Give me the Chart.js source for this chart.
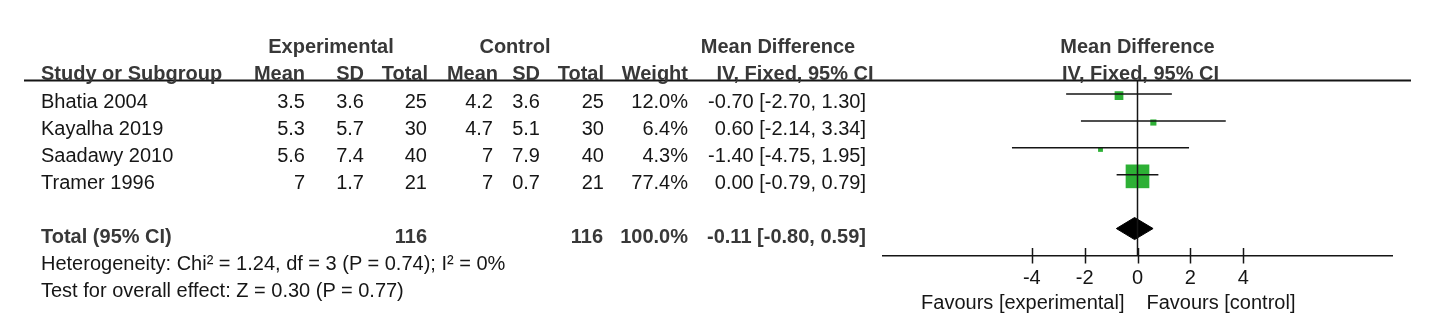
<!DOCTYPE html>
<html>
<head>
<meta charset="utf-8">
<script src="https://cdn.jsdelivr.net/npm/chart.js@4.4.1/dist/chart.umd.min.js"></script>
<style>
  html, body { margin: 0; padding: 0; background: #fff; }
  #wrap { position: relative; width: 1434px; height: 328px; overflow: hidden;
          font-family: "Liberation Sans", Arial, sans-serif; font-size: 20px; line-height: 20px; color: #161616; }
  #forest { position: absolute; left: 0; top: 0; }
  .t { position: absolute; white-space: nowrap; }
  .b { font-weight: bold; color: #383838; }
</style>
</head>
<body>
<div id="wrap"><canvas id="forest" width="1434" height="328"></canvas></div>
<script>
// study rows
const studies = ['Bhatia 2004', 'Kayalha 2019', 'Saadawy 2010', 'Tramer 1996'];
const expMean = [3.5, 5.3, 5.6, 7];
const expSD = [3.6, 5.7, 7.4, 1.7];
const expN = [25, 30, 40, 21];
const ctlMean = [4.2, 4.7, 7, 7];
const ctlSD = [3.6, 5.1, 7.9, 0.7];
const ctlN = [25, 30, 40, 21];
const weight = [12.0, 6.4, 4.3, 77.4];
const md = [-0.70, 0.60, -1.40, 0.00];
const mdLo = [-2.70, -2.14, -4.75, -0.79];
const mdHi = [1.30, 3.34, 1.95, 0.79];

// pooled estimate
const totalExpN = 116;
const totalCtlN = 116;
const totalWeight = 100.0;
const totalMd = -0.11;
const totalLo = -0.80;
const totalHi = 0.59;
const heterogeneity = 'Heterogeneity: Chi² = 1.24, df = 3 (P = 0.74); I² = 0%';
const overallTest = 'Test for overall effect: Z = 0.30 (P = 0.77)';

const xTicks = [-4, -2, 0, 2, 4];
const favoursLeft = 'Favours [experimental]';
const favoursRight = 'Favours [control]';

// layout
const X_MIN = -9.63, X_MAX = 9.63;
const Y_MIN = -0.52, Y_MAX = 6.02;
const TOTAL_ROW = 5;
const DIAMOND_H = 0.41;
const SQUARE_DROP = 0.06;   // squares sit a touch below their CI line
const INK = '#151515';
const GREEN = '#2db035';

const ciText = (m, lo, hi) => `${m.toFixed(2)} [${lo.toFixed(2)}, ${hi.toFixed(2)}]`;
const sideFor = (w) => 2.8 * Math.sqrt(w) - 0.95;

const ciSets = studies.map((s, i) => ({
  data: [{ x: mdLo[i], y: i }, { x: mdHi[i], y: i }],
  showLine: true, borderColor: INK, borderWidth: 1.5, pointRadius: 0
}));

const forestDecor = {
  id: 'forestDecor',
  afterDraw(chart) {
    const { ctx, chartArea, scales: { x } } = chart;
    ctx.save();
    ctx.strokeStyle = INK;
    // header rule across the table and plot
    ctx.lineWidth = 2;
    ctx.beginPath();
    ctx.moveTo(24, chartArea.top + 0.5);
    ctx.lineTo(1411, chartArea.top + 0.5);
    ctx.stroke();
    // tick marks crossing the axis
    ctx.lineWidth = 1.5;
    for (const v of xTicks) {
      const px = Math.round(x.getPixelForValue(v)) + 0.5;
      ctx.beginPath();
      ctx.moveTo(px, chartArea.bottom - 8);
      ctx.lineTo(px, chartArea.bottom + 7.5);
      ctx.stroke();
    }
    ctx.restore();
  }
};

const chart = new Chart(document.getElementById('forest'), {
  type: 'scatter',
  data: {
    datasets: [
      ...ciSets,
      {
        data: [{ x: 0, y: Y_MIN }, { x: 0, y: Y_MAX }],
        showLine: true, borderColor: INK, borderWidth: 1.5, pointRadius: 0
      },
      {
        data: md.map((m, i) => ({ x: m, y: i + SQUARE_DROP })),
        pointStyle: 'rect', backgroundColor: GREEN, borderWidth: 0,
        pointRadius: weight.map(w => sideFor(w) / Math.SQRT2)
      },
      {
        data: [
          { x: totalLo, y: TOTAL_ROW }, { x: totalMd, y: TOTAL_ROW - DIAMOND_H },
          { x: totalHi, y: TOTAL_ROW }, { x: totalMd, y: TOTAL_ROW + DIAMOND_H },
          { x: totalLo, y: TOTAL_ROW }
        ],
        showLine: true, fill: 'shape', backgroundColor: '#000', borderColor: '#000',
        borderWidth: 1, pointRadius: 0, tension: 0
      }
    ]
  },
  options: {
    responsive: false,
    animation: false,
    events: [],
    devicePixelRatio: 1,
    layout: { padding: { left: 883, right: 42, top: 80, bottom: 0 } },
    plugins: { legend: { display: false }, tooltip: { enabled: false } },
    scales: {
      x: {
        type: 'linear', min: X_MIN, max: X_MAX,
        afterBuildTicks: (s) => { s.ticks = xTicks.map(v => ({ value: v })); },
        afterFit: (s) => { s.height = 72; },
        grid: { display: false, drawTicks: true, tickLength: 8 },
        border: { display: true, color: INK, width: 1.5 },
        ticks: { color: INK, padding: 2.5, maxRotation: 0, autoSkip: false,
                 font: { family: 'Liberation Sans', size: 20 } }
      },
      y: { type: 'linear', min: Y_MIN, max: Y_MAX, reverse: true, display: false }
    }
  },
  plugins: [forestDecor]
});

// table text, placed against the chart's own scales
const wrap = document.getElementById('wrap');
const yS = chart.scales.y, xS = chart.scales.x;
const rowY = (r) => yS.getPixelForValue(r) + 7.3;
const zeroX = xS.getPixelForValue(0);

function put(text, x, y, align, bold) {
  const el = document.createElement('span');
  el.className = 't' + (bold ? ' b' : '');
  el.textContent = text;
  el.style.top = (y - 9.8) + 'px';
  if (align === 'right') el.style.right = (1434 - x) + 'px';
  else if (align === 'center') { el.style.left = x + 'px'; el.style.transform = 'translateX(-50%)'; }
  else el.style.left = x + 'px';
  wrap.appendChild(el);
}

const H1 = 45.5, H2 = 72.8;
put('Experimental', 331, H1, 'center', true);
put('Control', 515, H1, 'center', true);
put('Mean Difference', 778, H1, 'center', true);
put('Mean Difference', zeroX, H1, 'center', true);
put('Study or Subgroup', 41, H2, 'left', true);
put('Mean', 305, H2, 'right', true);
put('SD', 364, H2, 'right', true);
put('Total', 428, H2, 'right', true);
put('Mean', 498, H2, 'right', true);
put('SD', 540, H2, 'right', true);
put('Total', 604, H2, 'right', true);
put('Weight', 688, H2, 'right', true);
put('IV, Fixed, 95% CI', 795, H2, 'center', true);
put('IV, Fixed, 95% CI', zeroX + 3, H2, 'center', true);

studies.forEach((s, i) => {
  const y = rowY(i);
  put(s, 41, y, 'left');
  put(String(expMean[i]), 305, y, 'right');
  put(String(expSD[i]), 364, y, 'right');
  put(String(expN[i]), 427, y, 'right');
  put(String(ctlMean[i]), 493, y, 'right');
  put(String(ctlSD[i]), 540, y, 'right');
  put(String(ctlN[i]), 604, y, 'right');
  put(weight[i].toFixed(1) + '%', 688, y, 'right');
  put(ciText(md[i], mdLo[i], mdHi[i]), 866, y, 'right');
});

const ty = rowY(TOTAL_ROW);
put('Total (95% CI)', 41, ty, 'left', true);
put(String(totalExpN), 427, ty, 'right', true);
put(String(totalCtlN), 603, ty, 'right', true);
put(totalWeight.toFixed(1) + '%', 688, ty, 'right', true);
put(ciText(totalMd, totalLo, totalHi), 866, ty, 'right', true);
put(heterogeneity, 41, rowY(TOTAL_ROW + 1), 'left');
put(overallTest, 41, rowY(TOTAL_ROW + 2), 'left');

put(favoursLeft, zeroX - 13, 301.5, 'right');
put(favoursRight, zeroX + 9, 301.5, 'left');
</script>
</body>
</html>
